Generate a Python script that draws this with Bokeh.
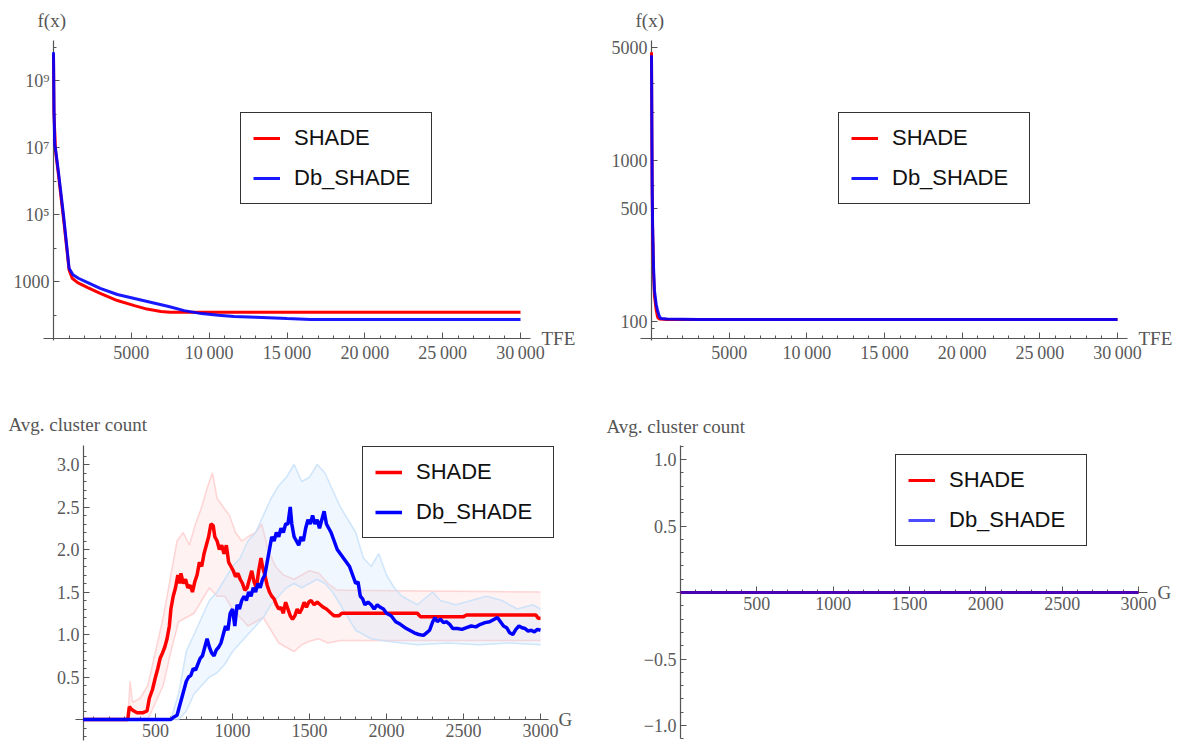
from bokeh.plotting import figure
from bokeh.layouts import column, row
from bokeh.models import FixedTicker, Label, Legend, LegendItem, Range1d
from bokeh.embed import file_html
from bokeh.resources import INLINE

# ---------------- data ----------------
# Top-left: f(x) vs TFE (log scale)
tl_shade_tfe = [0, 30, 80, 130, 320, 650, 900, 1000, 1200, 1550, 2200, 3000, 4100, 5200, 6000, 6900, 7500, 8500, 30000]
tl_shade_fx = [6e9, 1e8, 3e7, 8e6, 1.5e6, 7e4, 6e3, 2200, 1250, 930, 660, 440, 270, 190, 150, 127, 121, 120, 120]
tl_db_tfe = [0, 30, 80, 130, 320, 650, 900, 1000, 1250, 1600, 2200, 3000, 4100, 5200, 6300, 7400, 8400, 9500, 10600, 11600, 13000, 15000, 16500, 30000]
tl_db_fx = [7e9, 1.5e8, 1.2e7, 9e6, 1.8e6, 9e4, 7e3, 2500, 1600, 1250, 930, 620, 410, 310, 237, 180, 135, 110, 98, 90, 85, 78, 74, 74]

# Top-right: f(x) vs TFE (log scale)
tr_shade_tfe = [0, 10, 25, 45, 70, 100, 130, 190, 300, 400, 500, 1000, 30000]
tr_shade_fx = [4700, 2800, 1300, 650, 380, 280, 200, 145, 118, 106, 103.5, 103, 103]
tr_db_tfe = [0, 10, 25, 45, 70, 100, 130, 190, 300, 390, 500, 600, 1000, 3000, 30000]
tr_db_fx = [4500, 3000, 1500, 700, 400, 300, 220, 156, 128, 117, 108, 104.5, 103.5, 103, 103]

# Bottom-left: average cluster count vs G
bl_shade_g = [30, 320, 330, 345, 360, 380, 420, 445, 460, 480, 500, 515, 530, 545, 560, 575, 590, 600, 615, 630,
              645, 655, 665, 680, 695, 710, 725, 740, 755, 770, 785, 800, 815, 830, 845, 860, 875, 885, 900, 915,
              930, 945, 960, 975, 990, 1005, 1020, 1035, 1050, 1065, 1080, 1095, 1110, 1125, 1140, 1155, 1170, 1185,
              1195, 1210, 1225, 1240, 1255, 1270, 1285, 1300, 1315, 1330, 1345, 1360, 1375, 1390, 1405, 1420, 1435,
              1450, 1465, 1480, 1495, 1510, 1530, 1550, 1570, 1590, 1610, 1640, 1660, 1690, 1710, 2200, 2220, 2500,
              2520, 2970, 2985, 3000]
bl_shade_v = [0, 0, 0.15, 0.12, 0.1, 0.08, 0.08, 0.1, 0.25, 0.35, 0.5, 0.6, 0.72, 0.78, 0.85, 0.95, 1.1, 1.3, 1.45, 1.55,
              1.7, 1.6, 1.72, 1.6, 1.65, 1.55, 1.58, 1.5, 1.62, 1.7, 1.85, 1.8, 1.95, 2.05, 2.15, 2.3, 2.28, 2.15, 2.1, 2.0,
              2.05, 1.95, 2.05, 1.85, 1.8, 1.75, 1.68, 1.72, 1.65, 1.6, 1.52, 1.55, 1.65, 1.75, 1.62, 1.55, 1.75, 1.9,
              1.8, 1.7, 1.58, 1.5, 1.45, 1.42, 1.35, 1.3, 1.32, 1.25, 1.38, 1.3, 1.22, 1.18, 1.22, 1.3, 1.25,
              1.3, 1.38, 1.32, 1.38, 1.4, 1.35, 1.38, 1.35, 1.32, 1.3, 1.25, 1.22, 1.22, 1.25, 1.25, 1.21, 1.21,
              1.23, 1.23, 1.19, 1.19]
bl_shade_hi_g = [30, 320, 335, 350, 400, 450, 500, 550, 600, 640, 680, 720, 760, 800, 840, 870, 900, 940, 980, 1020,
                 1060, 1100, 1150, 1190, 1230, 1280, 1330, 1400, 1450, 1500, 1560, 1620, 1680, 1720, 3000]
bl_shade_hi_v = [0, 0, 0.45, 0.2, 0.25, 0.4, 0.8, 1.2, 1.7, 2.1, 2.2, 2.05, 2.3, 2.5, 2.75, 2.9, 2.6, 2.5, 2.4, 2.2,
                 2.1, 2.15, 2.2, 2.3, 2.0, 1.8, 1.7, 1.65, 1.7, 1.75, 1.72, 1.6, 1.52, 1.52, 1.5]
bl_shade_lo_g = [30, 450, 500, 550, 600, 650, 700, 750, 800, 850, 900, 950, 1000, 1050, 1100, 1150, 1200, 1250, 1300,
                 1350, 1400, 1450, 1500, 1560, 1620, 1700, 3000]
bl_shade_lo_v = [0, 0, 0.2, 0.4, 0.8, 1.15, 1.2, 1.25, 1.4, 1.55, 1.45, 1.45, 1.3, 1.2, 1.1, 1.15, 1.2, 1.05, 0.9,
                 0.85, 0.8, 0.88, 0.92, 0.95, 0.9, 0.93, 0.93]

bl_db_g = [30, 600, 620, 640, 655, 670, 685, 700, 715, 730, 745, 760, 775, 790, 805, 820, 835, 850, 865, 880, 895, 910,
           925, 940, 955, 970, 985, 1000, 1015, 1030, 1045, 1060, 1075, 1090, 1105, 1120, 1135, 1150, 1165, 1180, 1195,
           1210, 1225, 1240, 1255, 1270, 1285, 1300, 1315, 1330, 1345, 1360, 1375, 1385, 1400, 1415, 1430, 1445, 1460,
           1475, 1490, 1505, 1520, 1535, 1550, 1565, 1580, 1595, 1610, 1625, 1640, 1660, 1680, 1700, 1720, 1740, 1760,
           1780, 1800, 1815, 1830, 1845, 1860, 1880, 1900, 1920, 1940, 1960, 1980, 2000, 2030, 2060, 2090, 2120, 2150,
           2180, 2210, 2240, 2260, 2280, 2300, 2315, 2330, 2350, 2370, 2390, 2410, 2430, 2460, 2490, 2520, 2550, 2580,
           2610, 2640, 2670, 2700, 2720, 2740, 2760, 2780, 2800, 2820, 2840, 2860, 2880, 2900, 2920, 2940, 2960, 2980, 3000]
bl_db_v = [0, 0, 0.03, 0.05, 0.15, 0.25, 0.35, 0.45, 0.5, 0.52, 0.6, 0.58, 0.65, 0.72, 0.75, 0.85, 0.95, 0.85, 0.78, 0.75,
           0.82, 0.85, 0.9, 1.0, 1.1, 1.05, 1.25, 1.3, 1.1, 1.35, 1.3, 1.4, 1.45, 1.4, 1.5, 1.45, 1.55, 1.5, 1.6, 1.55,
           1.65, 1.7, 1.85, 2.0, 2.15, 2.1, 2.2, 2.15, 2.25, 2.2, 2.3, 2.3, 2.5, 2.3, 2.15, 2.1, 2.05, 2.15, 2.1, 2.25,
           2.35, 2.3, 2.4, 2.3, 2.35, 2.25, 2.35, 2.45, 2.3, 2.25, 2.2, 2.1, 2.0, 1.95, 1.9, 1.85, 1.8, 1.7, 1.6, 1.62,
           1.45, 1.42, 1.35, 1.38, 1.35, 1.3, 1.35, 1.32, 1.3, 1.25, 1.22, 1.15, 1.12, 1.08, 1.05, 1.02, 1.0, 0.99, 1.02,
           1.05, 1.15, 1.2, 1.15, 1.18, 1.14, 1.15, 1.12, 1.07, 1.07, 1.06, 1.08, 1.1, 1.09, 1.12, 1.14, 1.15, 1.18, 1.2,
           1.15, 1.1, 1.08, 1.02, 1.0, 1.06, 1.1, 1.08, 1.07, 1.04, 1.05, 1.03, 1.06, 1.05]
bl_db_hi_g = [30, 600, 650, 700, 750, 800, 850, 900, 950, 1000, 1050, 1100, 1150, 1200, 1250, 1300, 1350, 1400, 1450,
              1500, 1550, 1600, 1650, 1700, 1750, 1800, 1850, 1900, 1950, 2000, 2050, 2100, 2200, 2300, 2350, 2450,
              2550, 2650, 2750, 2850, 2950, 3000]
bl_db_hi_v = [0, 0, 0.3, 0.8, 1.0, 1.2, 1.4, 1.5, 1.65, 1.8, 1.9, 2.1, 2.2, 2.4, 2.6, 2.75, 2.85, 3.0, 2.8,
              2.85, 3.0, 2.9, 2.7, 2.5, 2.35, 2.2, 1.9, 1.8, 1.95, 1.7, 1.55, 1.45, 1.35, 1.5, 1.4, 1.35,
              1.4, 1.45, 1.4, 1.3, 1.35, 1.3]
bl_db_lo_g = [30, 650, 700, 750, 800, 850, 900, 950, 1000, 1050, 1100, 1150, 1200, 1250, 1300, 1350, 1400, 1450, 1500,
              1550, 1600, 1650, 1700, 1750, 1800, 1850, 1900, 2000, 2100, 2200, 2400, 2600, 2800, 3000]
bl_db_lo_v = [0, 0, 0.1, 0.3, 0.4, 0.5, 0.55, 0.65, 0.8, 0.9, 1.0, 1.1, 1.2, 1.35, 1.45, 1.55, 1.6, 1.55, 1.6,
              1.65, 1.6, 1.5, 1.35, 1.2, 1.05, 1.0, 0.95, 0.92, 0.9, 0.88, 0.9, 0.88, 0.9, 0.88]

# Bottom-right: average cluster count vs G (both zero)
br_g = [0, 3000]
br_shade_v = [0, 0]
br_db_v = [0, 0]

# ticks
tfe_major = [5000, 10000, 15000, 20000, 25000, 30000]
tfe_labels = ["5000", "10\u2009000", "15\u2009000", "20\u2009000", "25\u2009000", "30\u2009000"]
tfe_minor = list(range(1000, 31000, 1000))
g_major = [500, 1000, 1500, 2000, 2500, 3000]
g_labels = ["500", "1000", "1500", "2000", "2500", "3000"]
g_minor = list(range(100, 3100, 100))
tl_y_major = [1e3, 1e5, 1e7, 1e9]
tl_y_labels = ["1000", "10\u2075", "10\u2077", "10\u2079"]
tl_y_minor = [1e2, 1e4, 1e6, 1e8, 1e10]
tr_y_major = [100, 500, 1000, 5000]
tr_y_labels = ["100", "500", "1000", "5000"]
tr_y_minor = [90, 200, 300, 700, 2000, 3000]
bl_y_major = [0.5, 1.0, 1.5, 2.0, 2.5, 3.0]
bl_y_labels = ["0.5", "1.0", "1.5", "2.0", "2.5", "3.0"]
bl_y_minor = [round(-0.2 + 0.1 * i, 1) for i in range(34)]
br_y_major = [-1.0, -0.5, 0.5, 1.0]
br_y_labels = ["\u22121.0", "\u22120.5", "0.5", "1.0"]
br_y_minor = [round(-1.1 + 0.1 * i, 1) for i in range(23)]

# ---------------- style ----------------
SERIF = "Liberation Serif"
SANS = "Liberation Sans"
TICK_TXT = "#5a5a5a"
AXIS_COL = "#555555"
RED = "#ff0000"
BLUE = "#0000ff"


def lin(px0, ppu):
    return lambda px: (px - px0) / ppu


def make_fig(w, h, xr, yr, ylog=False):
    p = figure(width=w, height=h, x_range=Range1d(*xr), y_range=Range1d(*yr),
               y_axis_type="log" if ylog else "linear", output_backend="svg",
               toolbar_location=None, min_border_left=0, min_border_right=0,
               min_border_top=0, min_border_bottom=0)
    p.outline_line_color = None
    p.xgrid.visible = False
    p.ygrid.visible = False
    p.background_fill_color = "white"
    p.border_fill_color = "white"
    return p


def style_axes(p, xfix, yfix, xb, yb, xt, xl, xm, yt, yl, ym):
    p.xaxis.fixed_location = xfix
    p.yaxis.fixed_location = yfix
    p.xaxis.bounds = xb
    p.yaxis.bounds = yb
    p.xaxis.ticker = FixedTicker(ticks=xt, minor_ticks=xm)
    p.yaxis.ticker = FixedTicker(ticks=yt, minor_ticks=ym)
    p.xaxis.major_label_overrides = dict(zip(xt, xl))
    p.yaxis.major_label_overrides = dict(zip(yt, yl))
    for ax in (p.xaxis, p.yaxis):
        ax.level = "underlay"
        ax.axis_line_color = AXIS_COL
        ax.axis_line_width = 1.2
        ax.major_tick_line_color = AXIS_COL
        ax.minor_tick_line_color = AXIS_COL
        ax.major_tick_in = 6
        ax.major_tick_out = 0
        ax.minor_tick_in = 3
        ax.minor_tick_out = 0
        ax.major_label_text_font = SERIF
        ax.major_label_text_font_size = "18px"
        ax.major_label_text_color = TICK_TXT
        ax.major_label_standoff = 4


def add_text(p, x, y, text, size="19px"):
    p.add_layout(Label(x=x, y=y, text=text, text_font=SERIF, text_font_size=size,
                       text_color="#555555", text_baseline="middle", text_align="left"))


def add_legend(p, r1, r2, loc):
    leg = Legend(items=[LegendItem(label="SHADE", renderers=[r1]),
                        LegendItem(label="Db_SHADE", renderers=[r2])],
                 location=loc, margin=0, padding=12, spacing=14, glyph_width=27,
                 glyph_height=26, label_height=26, label_standoff=14, label_width=125,
                 label_text_font=SANS, label_text_font_size="22px", label_text_color="#111111",
                 border_line_color="#333333", border_line_width=1.5, border_line_alpha=1.0,
                 background_fill_color="white", background_fill_alpha=1.0)
    p.add_layout(leg, "center")


# ---------------- panel 1 (top-left) : page x 0..589, y 0..380 ----------------
x1 = lin(53, (520 - 53) / 30000)
y1 = lambda py: 10 ** (3 + (281 - py) / 33.5)
p1 = make_fig(589, 380, (x1(0), x1(589)), (y1(380), y1(0)), ylog=True)
style_axes(p1, y1(338), 0, (x1(43), x1(530)), (y1(340), y1(40)),
           tfe_major, tfe_labels, tfe_minor, tl_y_major, tl_y_labels, tl_y_minor)
r1a = p1.line(tl_shade_tfe, tl_shade_fx, line_color=RED, line_width=3)
r1b = p1.line(tl_db_tfe, tl_db_fx, line_color=BLUE, line_width=3, line_alpha=0.9)
add_legend(p1, r1a, r1b, (240, 380 - 204))
add_text(p1, x1(37), y1(20), "f(x)")
add_text(p1, x1(541), y1(338), "TFE")

# ---------------- panel 2 (top-right) : page x 589..1178, y 0..380 ----------------
x2 = lin(651 - 589, (1117 - 651) / 30000)
y2 = lambda py: 10 ** (2 + (321 - py) / 161)
p2 = make_fig(589, 380, (x2(0), x2(589)), (y2(380), y2(0)), ylog=True)
style_axes(p2, y2(338), 0, (x2(640 - 589), x2(1127 - 589)), (y2(340), y2(40)),
           tfe_major, tfe_labels, tfe_minor, tr_y_major, tr_y_labels, tr_y_minor)
r2a = p2.line(tr_shade_tfe, tr_shade_fx, line_color=RED, line_width=3)
r2b = p2.line(tr_db_tfe, tr_db_fx, line_color=BLUE, line_width=3, line_alpha=0.9)
add_legend(p2, r2a, r2b, (838 - 589, 380 - 204))
add_text(p2, x2(635 - 589), y2(20), "f(x)")
add_text(p2, x2(1138 - 589), y2(338), "TFE")

# ---------------- panel 3 (bottom-left) : page x 0..589, y 380..743 ----------------
x3 = lin(78, 0.154)
y3 = lambda py: (719 - py) / 85
p3 = make_fig(589, 363, (x3(0), x3(589)), (y3(743), y3(380)))
style_axes(p3, 0, x3(83), (x3(75), x3(548)), (y3(740), y3(445)),
           g_major, g_labels, g_minor, bl_y_major, bl_y_labels, bl_y_minor)
p3.patch(bl_shade_hi_g + bl_shade_lo_g[::-1], bl_shade_hi_v + bl_shade_lo_v[::-1],
         fill_color="#ffcccc", fill_alpha=0.25, line_color=None)
p3.line(bl_shade_hi_g, bl_shade_hi_v, line_color="#ffc4c4", line_width=1.5, line_alpha=0.7)
p3.line(bl_shade_lo_g, bl_shade_lo_v, line_color="#ffc4c4", line_width=1.5, line_alpha=0.7)
p3.patch(bl_db_hi_g + bl_db_lo_g[::-1], bl_db_hi_v + bl_db_lo_v[::-1],
         fill_color="#c4e0fa", fill_alpha=0.25, line_color=None)
p3.line(bl_db_hi_g, bl_db_hi_v, line_color="#c4e0fa", line_width=1.5, line_alpha=0.8)
p3.line(bl_db_lo_g, bl_db_lo_v, line_color="#c4e0fa", line_width=1.5, line_alpha=0.8)
r3a = p3.line(bl_shade_g, bl_shade_v, line_color=RED, line_width=3.5)
r3b = p3.line(bl_db_g, bl_db_v, line_color=BLUE, line_width=3.5)
add_legend(p3, r3a, r3b, (362, 743 - 538))
add_text(p3, x3(8), y3(424), "Avg. cluster count")
add_text(p3, x3(558), y3(719), "G")

# ---------------- panel 4 (bottom-right) : page x 589..1178, y 380..743 ----------------
x4 = lin(680 - 589, (1138 - 680) / 3000)
y4 = lambda py: (592 - py) / 133
p4 = make_fig(589, 363, (x4(0), x4(589)), (y4(743), y4(380)))
style_axes(p4, 0, 0, (x4(676 - 589), x4(1147 - 589)), (y4(738), y4(445)),
           g_major, g_labels, g_minor, br_y_major, br_y_labels, br_y_minor)
r4a = p4.line(br_g, br_shade_v, line_color=RED, line_width=3)
r4b = p4.line(br_g, br_db_v, line_color=BLUE, line_width=3, line_alpha=0.7)
add_legend(p4, r4a, r4b, (895 - 589, 743 - 546))
add_text(p4, x4(606 - 589), y4(426), "Avg. cluster count")
add_text(p4, x4(1157 - 589), y4(592), "G")

layout = column(row(p1, p2, spacing=0), row(p3, p4, spacing=0), spacing=0)
open("out.html", "w").write(file_html(layout, INLINE))
